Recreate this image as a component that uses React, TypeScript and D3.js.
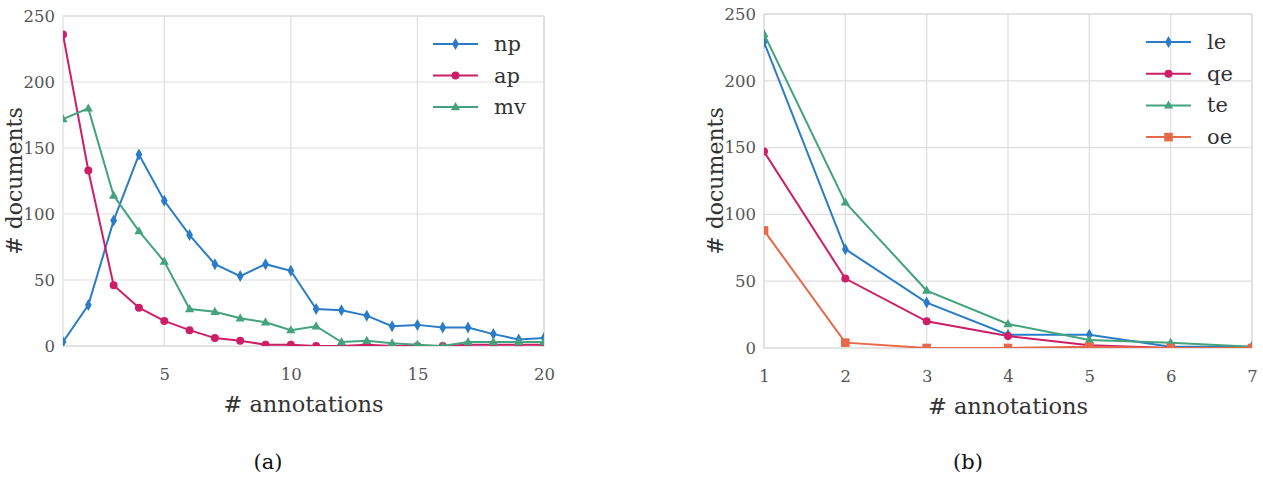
import { useEffect, useRef } from "react";
import * as d3 from "d3";

// panel (a): x = 1..20
const annotsA = d3.range(1, 21);
const npVals = [3, 31, 95, 145, 110, 84, 62, 53, 62, 57, 28, 27, 23, 15, 16, 14, 14, 9, 5, 6];
const apVals = [236, 133, 46, 29, 19, 12, 6, 4, 1, 1, 0, 0, 1, 0, 0, 0, 1, 1, 1, 1];
const mvVals = [172, 180, 114, 87, 64, 28, 26, 21, 18, 12, 15, 3, 4, 2, 1, 0, 3, 3, 3, 3];
const ticksA = [5, 10, 15, 20];

// panel (b): x = 1..7
const annotsB = [1, 2, 3, 4, 5, 6, 7];
const leVals = [229, 74, 34, 10, 10, 1, 1];
const qeVals = [147, 52, 20, 9, 2, 0, 0];
const teVals = [235, 109, 43, 18, 6, 4, 1];
const oeVals = [88, 4, 0, 0, 1, 0, 0];
const ticksB = [1, 2, 3, 4, 5, 6, 7];

const yTicks = [0, 50, 100, 150, 200, 250];

const BLUE = "#2b7cc6";
const PINK = "#cc1f68";
const GREEN = "#44a37c";
const ORANGE = "#e8694a";

type Series = { name: string; values: number[]; color: string; marker: string };

const seriesA: Series[] = [
  { name: "np", values: npVals, color: BLUE, marker: "diamond" },
  { name: "ap", values: apVals, color: PINK, marker: "circle" },
  { name: "mv", values: mvVals, color: GREEN, marker: "triangle" },
];
const seriesB: Series[] = [
  { name: "le", values: leVals, color: BLUE, marker: "diamond" },
  { name: "qe", values: qeVals, color: PINK, marker: "circle" },
  { name: "te", values: teVals, color: GREEN, marker: "triangle" },
  { name: "oe", values: oeVals, color: ORANGE, marker: "square" },
];

const FONT = "'DejaVu Serif', 'Liberation Serif', serif";

function markerPath(kind: string) {
  if (kind === "diamond") return "M0,-6L3.4,0L0,6L-3.4,0Z";
  if (kind === "circle") return d3.symbol(d3.symbolCircle, 50)()!;
  if (kind === "triangle") return "M0,-5L4.6,3.2L-4.6,3.2Z";
  return "M-4.3,-4.3H4.3V4.3H-4.3Z";
}

function drawPanel(
  svg: d3.Selection<SVGSVGElement, unknown, null, undefined>,
  id: string,
  x0: number, x1: number, y0: number, y1: number,
  xs: number[], xDomain: [number, number], xTicks: number[],
  series: Series[], legendX: number, legendY: number, legendGap: number,
  caption: string, captionX: number,
) {
  const x = d3.scaleLinear().domain(xDomain).range([x0, x1]);
  const y = d3.scaleLinear().domain([0, 250]).range([y1, y0]);
  const g = svg.append("g");

  // grid
  g.append("g").selectAll("line").data(yTicks).join("line")
    .attr("x1", x0).attr("x2", x1).attr("y1", (d) => y(d)).attr("y2", (d) => y(d))
    .attr("stroke", "#dedede").attr("stroke-width", 1.2);
  g.append("g").selectAll("line").data(xTicks).join("line")
    .attr("x1", (d) => x(d)).attr("x2", (d) => x(d)).attr("y1", y0).attr("y2", y1)
    .attr("stroke", "#dedede").attr("stroke-width", 1.2);
  g.append("rect").attr("x", x0).attr("y", y0).attr("width", x1 - x0).attr("height", y1 - y0)
    .attr("fill", "none").attr("stroke", "#dcdcdc").attr("stroke-width", 1.2);

  // axes labels
  const yAxis = d3.axisLeft(y).tickValues(yTicks).tickSize(0).tickPadding(8).tickFormat(d3.format("d"));
  const ya = g.append("g").attr("transform", `translate(${x0},0)`).call(yAxis);
  const xAxis = d3.axisBottom(x).tickValues(xTicks).tickSize(0).tickPadding(22).tickFormat(d3.format("d"));
  const xa = g.append("g").attr("transform", `translate(0,${y1})`).call(xAxis);
  [ya, xa].forEach((a) => {
    a.select(".domain").remove();
    a.selectAll("text").attr("font-family", FONT).attr("font-size", 16.5).attr("fill", "#555");
  });

  g.append("text").attr("x", (x0 + x1) / 2).attr("y", y1 + 66)
    .attr("text-anchor", "middle").attr("font-family", FONT).attr("font-size", 22.5).attr("fill", "#333")
    .text("# annotations");
  g.append("text").attr("transform", `translate(${x0 - 41},${(y0 + y1) / 2}) rotate(-90)`)
    .attr("text-anchor", "middle").attr("font-family", FONT).attr("font-size", 22).attr("fill", "#333")
    .text("# documents");
  g.append("text").attr("x", captionX).attr("y", 469)
    .attr("text-anchor", "middle").attr("font-family", FONT).attr("font-size", 21).attr("fill", "#111")
    .text(caption);

  // data
  svg.append("clipPath").attr("id", id).append("rect")
    .attr("x", x0).attr("y", y0 - 1).attr("width", x1 - x0).attr("height", y1 - y0 + 1);
  const plot = g.append("g").attr("clip-path", `url(#${id})`);
  const line = d3.line<number>().x((_, i) => x(xs[i])).y((d) => y(d));
  series.forEach((s) => {
    plot.append("path").attr("d", line(s.values)).attr("fill", "none")
      .attr("stroke", s.color).attr("stroke-width", 2);
    plot.append("g").selectAll("path").data(s.values).join("path")
      .attr("transform", (d, i) => `translate(${x(xs[i])},${y(d)})`)
      .attr("d", markerPath(s.marker)).attr("fill", s.color);
  });

  // legend
  const lg = g.append("g");
  series.forEach((s, i) => {
    const ly = legendY + i * legendGap;
    lg.append("line").attr("x1", legendX).attr("x2", legendX + 45).attr("y1", ly).attr("y2", ly)
      .attr("stroke", s.color).attr("stroke-width", 2);
    lg.append("path").attr("transform", `translate(${legendX + 22.5},${ly})`)
      .attr("d", markerPath(s.marker)).attr("fill", s.color);
    lg.append("text").attr("x", legendX + 61).attr("y", ly + 7).attr("font-family", FONT)
      .attr("font-size", 21).attr("fill", "#333").text(s.name);
  });
}

export default function App() {
  const ref = useRef<SVGSVGElement>(null);

  useEffect(() => {
    if (!ref.current) return;
    const svg = d3.select(ref.current);
    svg.selectAll("*").remove();
    drawPanel(svg, "clipA", 63, 544, 16, 346, annotsA, [1, 20], ticksA, seriesA, 433, 44, 31.5, "(a)", 268);
    drawPanel(svg, "clipB", 764, 1252, 14, 348, annotsB, [1, 7], ticksB, seriesB, 1146, 42, 31.7, "(b)", 968);
  }, []);

  return (
    <svg ref={ref} width={1263} height={478}
      style={{ position: "absolute", left: 0, top: 0, background: "#fff" }} />
  );
}
